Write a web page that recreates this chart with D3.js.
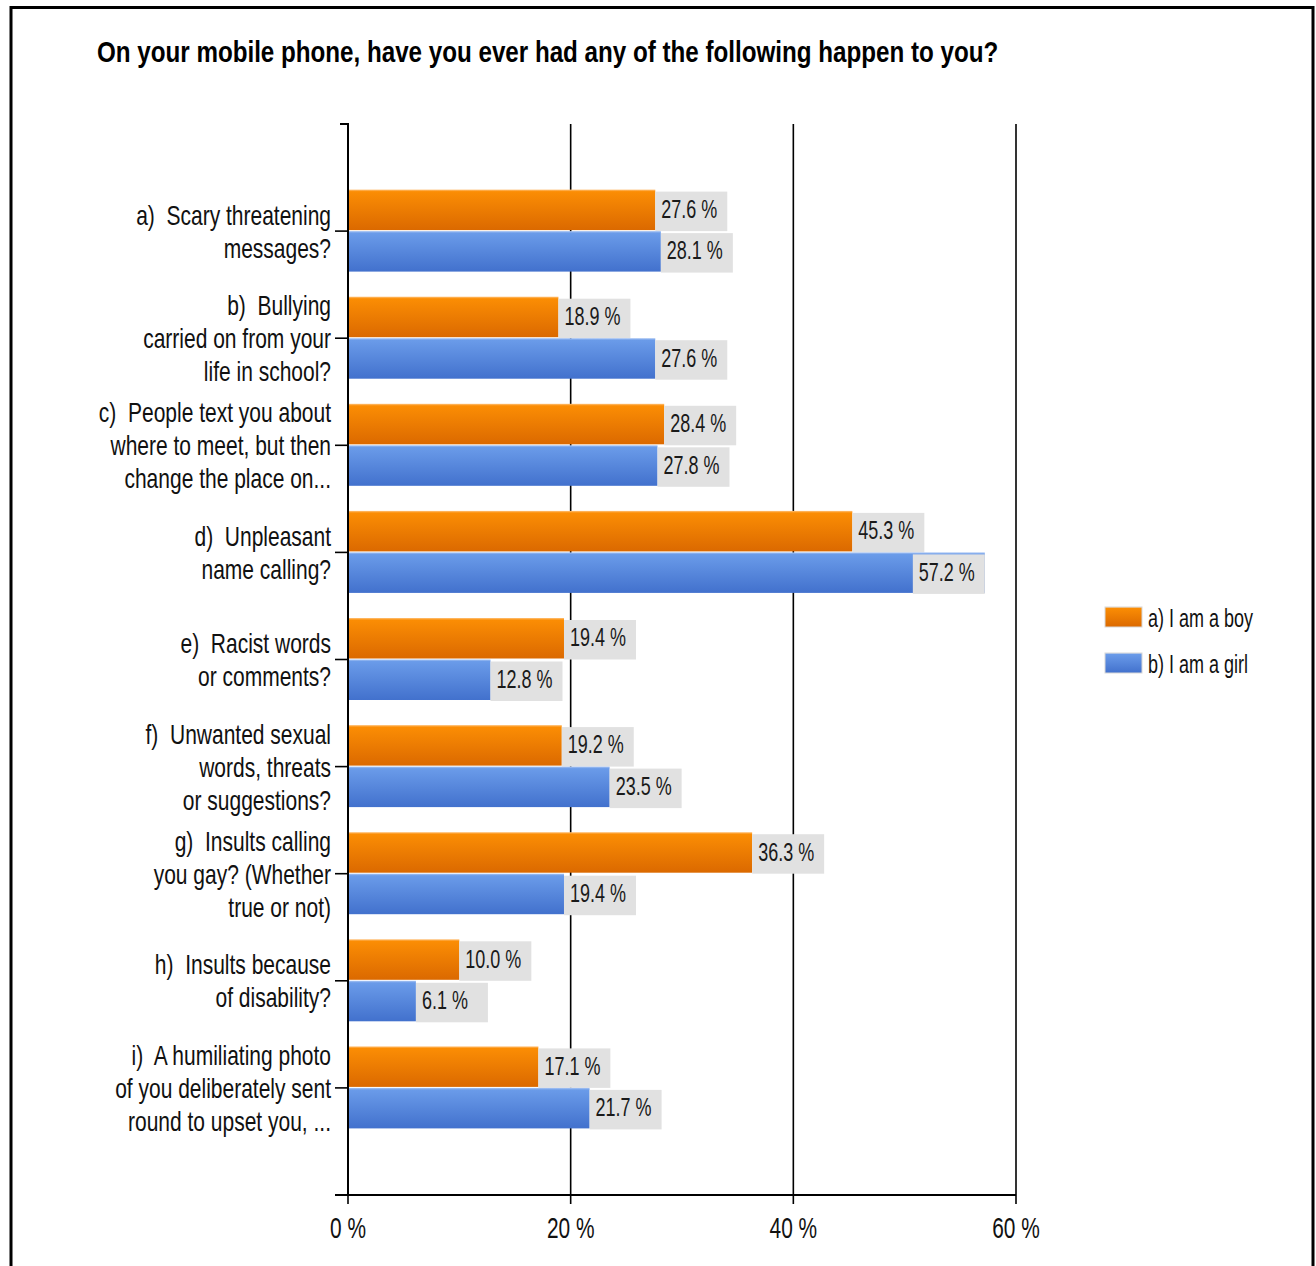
<!DOCTYPE html>
<html>
<head>
<meta charset="utf-8">
<script src="https://cdn.jsdelivr.net/npm/d3@7"></script>
<style>
  html, body { margin: 0; padding: 0; background: #fff; }
  svg { display: block; }
  text { font-family: "Liberation Sans Narrow", "Arial Narrow", "Liberation Sans", Arial, sans-serif; white-space: pre; }
</style>
</head>
<body>
<svg id="chart" width="1316" height="1266"></svg>
<script>
// Survey answers, percent of respondents
const categories = ["a", "b", "c", "d", "e", "f", "g", "h", "i"];
const categoryLines = [
  ["a)  Scary threatening", "messages?"],
  ["b)  Bullying", "carried on from your", "life in school?"],
  ["c)  People text you about", "where to meet, but then", "change the place on..."],
  ["d)  Unpleasant", "name calling?"],
  ["e)  Racist words", "or comments?"],
  ["f)  Unwanted sexual", "words, threats", "or suggestions?"],
  ["g)  Insults calling", "you gay? (Whether", "true or not)"],
  ["h)  Insults because", "of disability?"],
  ["i)  A humiliating photo", "of you deliberately sent", "round to upset you, ..."]
];
const seriesNames = ["a) I am a boy", "b) I am a girl"];
const boyValues = [27.6, 18.9, 28.4, 45.3, 19.4, 19.2, 36.3, 10.0, 17.1];
const girlValues = [28.1, 27.6, 27.8, 57.2, 12.8, 23.5, 19.4, 6.1, 21.7];
const xTicks = [0, 20, 40, 60];
const title = "On your mobile phone, have you ever had any of the following happen to you?";

const svg = d3.select("#chart");
const W = 1316, H = 1266;
const plot = { left: 348, right: 1016, top: 124, bottom: 1195 };
const NARROW = 0.72; // horizontal squeeze that gives the narrow lettering

// Places a condensed text element at (x, y)
function narrowText(sel, x, y, sx = NARROW) {
  return sel.append("text")
    .attr("transform", `translate(${x},${y}) scale(${sx},1)`);
}

// Outer frame (no bottom edge)
svg.append("path")
  .attr("d", `M11,${H} V7.5 H1313 V${H}`)
  .attr("fill", "none").attr("stroke", "#000").attr("stroke-width", 3);

// Title
narrowText(svg, 97, 62, 0.834)
  .attr("font-size", 29).attr("font-weight", "bold").attr("fill", "#000")
  .text(title);

const x = d3.scaleLinear().domain([0, 60]).range([plot.left, plot.right]);
const y = d3.scaleBand().domain(categories).range([plot.top, plot.bottom])
  .paddingInner(0.225).paddingOuter(0.6125);
const sub = d3.scaleBand().domain([0, 1]).range([0, y.bandwidth()]);

// Gradients for bars
const defs = svg.append("defs");
const grads = [
  { id: "gBoy", top: "#fb8d04", bottom: "#db6900", hi: "#ffc27a" },
  { id: "gGirl", top: "#6a9be9", bottom: "#4271cd", hi: "#a9c5f3" }
];
grads.forEach(g => {
  const lg = defs.append("linearGradient").attr("id", g.id)
    .attr("x1", 0).attr("y1", 0).attr("x2", 0).attr("y2", 1);
  lg.append("stop").attr("offset", 0).attr("stop-color", g.hi);
  lg.append("stop").attr("offset", 0.05).attr("stop-color", g.top);
  lg.append("stop").attr("offset", 1).attr("stop-color", g.bottom);
});

// Vertical gridlines at major ticks
svg.append("g").selectAll("line").data(xTicks.filter(t => t > 0)).join("line")
  .attr("x1", d => x(d)).attr("x2", d => x(d))
  .attr("y1", plot.top).attr("y2", plot.bottom)
  .attr("stroke", "#000").attr("stroke-width", 1.6);

// Bars with value labels
const series = [boyValues, girlValues];
const labelW = 72;
series.forEach((vals, si) => {
  const g = svg.append("g");
  const rows = categories.map((c, i) => ({ c, v: vals[i] }));
  g.selectAll("rect.bar").data(rows).join("rect").attr("class", "bar")
    .attr("x", x(0))
    .attr("y", d => y(d.c) + sub(si))
    .attr("width", d => x(d.v) - x(0))
    .attr("height", sub.bandwidth() - 1)
    .attr("fill", `url(#${grads[si].id})`);
  const lbl = g.selectAll("g.lbl").data(rows).join("g").attr("class", "lbl")
    .attr("transform", d => {
      let lx = x(d.v);
      if (lx + labelW > plot.right) lx = x(d.v) - labelW; // keep inside the plot
      return `translate(${lx},${y(d.c) + sub(si)})`;
    });
  lbl.append("rect")
    .attr("x", 0).attr("y", 2)
    .attr("width", labelW).attr("height", sub.bandwidth() - 2)
    .attr("fill", "#e1e1e1");
  lbl.each(function (d) {
    narrowText(d3.select(this), 6, sub.bandwidth() / 2 + 1)
      .attr("dominant-baseline", "middle")
      .attr("font-size", 25).attr("fill", "#1a1a1a")
      .text(d.v.toFixed(1) + " %");
  });
});

// Left axis line with top tick
svg.append("path")
  .attr("d", `M${plot.left - 8},${plot.top} H${plot.left} V${plot.bottom}`)
  .attr("fill", "none").attr("stroke", "#000").attr("stroke-width", 2);

// Category ticks and labels
const lineH = 33;
const cat = svg.append("g").selectAll("g").data(categories).join("g")
  .attr("transform", d => `translate(0,${y(d) + y.bandwidth() / 2})`);
cat.append("line")
  .attr("x1", plot.left - 13).attr("x2", plot.left)
  .attr("stroke", "#000").attr("stroke-width", 1.6);
cat.each(function (d, i) {
  const lines = categoryLines[i];
  const g = d3.select(this);
  lines.forEach((ln, k) => {
    narrowText(g, plot.left - 17, (k - (lines.length - 1) / 2) * lineH, 0.75)
      .attr("text-anchor", "end").attr("dy", "0.36em")
      .attr("font-size", 28).attr("fill", "#111")
      .text(ln);
  });
});

// Bottom axis
const xAxis = svg.append("g");
xAxis.append("line")
  .attr("x1", plot.left - 13).attr("x2", plot.right)
  .attr("y1", plot.bottom).attr("y2", plot.bottom)
  .attr("stroke", "#000").attr("stroke-width", 2);
xAxis.selectAll("line.tk").data(xTicks).join("line").attr("class", "tk")
  .attr("x1", d => x(d)).attr("x2", d => x(d))
  .attr("y1", plot.bottom).attr("y2", plot.bottom + 9)
  .attr("stroke", "#000").attr("stroke-width", 1.6);
xTicks.forEach(t => {
  narrowText(xAxis, x(t), plot.bottom + 43)
    .attr("text-anchor", "middle").attr("font-size", 29).attr("fill", "#111")
    .text(t + " %");
});

// Legend
const legend = svg.append("g").attr("transform", "translate(1105,607)");
seriesNames.forEach((name, i) => {
  const row = legend.append("g").attr("transform", `translate(0,${i * 46})`);
  row.append("rect").attr("width", 37).attr("height", 20)
    .attr("fill", `url(#${grads[i].id})`)
    .attr("stroke", "#d8d8d8").attr("stroke-width", 1);
  narrowText(row, 43, 11)
    .attr("dy", "0.36em")
    .attr("font-size", 25).attr("fill", "#111").text(name);
});
</script>
</body>
</html>
